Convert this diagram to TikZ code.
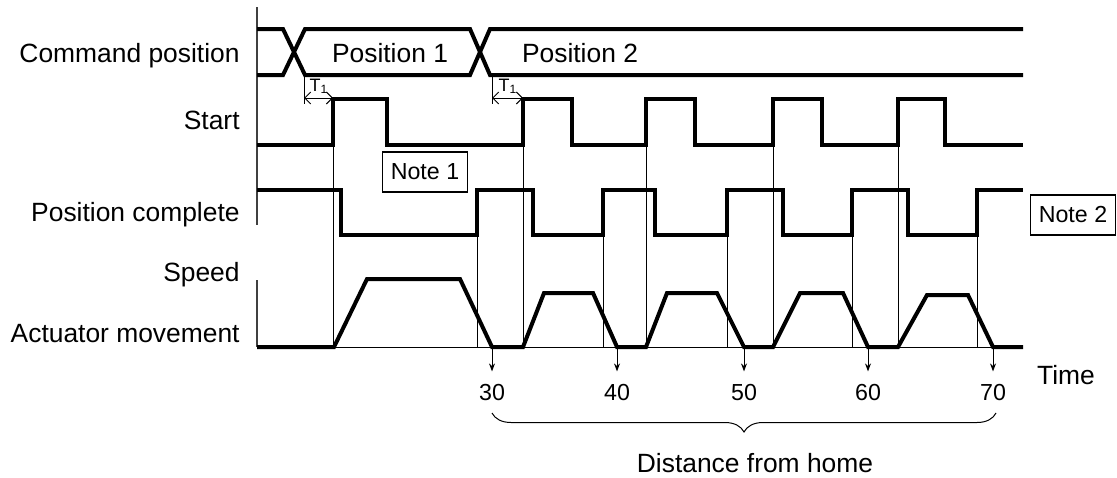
\documentclass[tikz,border=0pt]{standalone}
\usepackage{fontspec}
\setmainfont{Liberation Sans}
\usetikzlibrary{arrows.meta}
\usetikzlibrary{decorations.pathreplacing}

\begin{document}
\begin{tikzpicture}[x=0.5pt, y=-0.5pt,
  every node/.style={inner sep=0pt, font=\fontsize{13.2}{15}\selectfont},
  sig/.style={line width=2pt, line join=miter},
  guide/.style={line width=0.5pt},
  small/.style={font=\fontsize{11.6}{14}\selectfont},
  tiny/.style={font=\fontsize{9}{10}\selectfont},
  notebox/.style={draw, line width=0.6pt, minimum width=42.5pt, minimum height=20pt, font=\fontsize{11.6}{14}\selectfont},
  tip/.style={-{Stealth[length=4pt, width=3pt]}}]
  \useasboundingbox (0,0) rectangle (1117,477);

  % signal names
  \node[anchor=base east] (lcmd)   at (240,62)  {Command position};
  \node[anchor=base east] (lstart) at (240,129) {Start};
  \node[anchor=base east] (ldone)  at (240,221) {Position complete};
  \node[anchor=base east] (lspeed) at (240,281) {Speed};
  \node[anchor=base east] (lmove)  at (240,342) {Actuator movement};

  % axes
  \draw[line width=0.7pt, black!75] (257,7) -- (257,225);
  \draw[line width=0.7pt, black!75] (257,280) -- (257,347);

  % command position
  \draw[sig] (257,29) -- (283,29) -- (305,75) -- (470,75) -- (490,29) -- (1023,29);
  \draw[sig] (257,75) -- (283,75) -- (305,29) -- (470,29) -- (490,75) -- (1023,75);
  \node[anchor=base] (pos1) at (390,62) {Position 1};
  \node[anchor=base] (pos2) at (580,62) {Position 2};

  % T1
  \draw[guide] (304,75) -- (304,104);
  \draw[guide, {Straight Barb[length=3pt]}-{Straight Barb[length=3pt]}] (304,98) -- (333,98);
  \node[anchor=base, tiny] (t1a) at (319,91) {T\textsubscript{1}};
  \draw[guide] (492,75) -- (492,104);
  \draw[guide, {Straight Barb[length=3pt]}-{Straight Barb[length=3pt]}] (492,98) -- (523,98);
  \node[anchor=base, tiny] (t1b) at (508,91) {T\textsubscript{1}};

  % start
  \draw[sig] (257,145) -- (333,145) -- (333,99) -- (387,99) -- (387,145)
    -- (523,145) -- (523,99) -- (572,99) -- (572,145)
    -- (646,145) -- (646,99) -- (695,99) -- (695,145)
    -- (773,145) -- (773,99) -- (822,99) -- (822,145)
    -- (898,145) -- (898,99) -- (945,99) -- (945,145) -- (1023,145);

  % position complete
  \draw[sig] (257,190) -- (341,190) -- (341,235) -- (477,235) -- (477,190)
    -- (533,190) -- (533,235) -- (603,235) -- (603,190)
    -- (655,190) -- (655,235) -- (727,235) -- (727,190)
    -- (783,190) -- (783,235) -- (852,235) -- (852,190)
    -- (908,190) -- (908,235) -- (977,235) -- (977,190) -- (1023,190);

  % guide lines
  \draw[guide] (334,347) -- (1023,347);
  \draw[guide] (333,145) -- (333,347);
  \draw[guide] (523,145) -- (523,347);
  \draw[guide] (646,145) -- (646,347);
  \draw[guide] (773,145) -- (773,347);
  \draw[guide] (898,145) -- (898,347);
  \draw[guide] (477,235) -- (477,347);
  \draw[guide] (603,235) -- (603,347);
  \draw[guide] (727,235) -- (727,347);
  \draw[guide] (852,235) -- (852,347);
  \draw[guide] (977,235) -- (977,347);

  % speed
  \draw[sig] (257,347) -- (334,347) -- (367,279) -- (460,279) -- (492,347)
    -- (523,347) -- (544,293) -- (593,293) -- (617,347)
    -- (646,347) -- (667,293) -- (717,293) -- (744,347)
    -- (773,347) -- (800,293) -- (843,293) -- (868,347)
    -- (898,347) -- (927,295) -- (968,295) -- (993,347) -- (1023,347);

  % notes
  \node[notebox] (note1) at (425,172) {Note 1};
  \node[notebox] (note2) at (1073,215) {Note 2};

  % distances
  \coordinate (e30) at (492,347);
  \coordinate (e40) at (617,347);
  \coordinate (e50) at (744,347);
  \coordinate (e60) at (868,347);
  \coordinate (e70) at (993,347);
  \node[anchor=base, small] (n30) at (492,400) {30};
  \node[anchor=base, small] (n40) at (617,400) {40};
  \node[anchor=base, small] (n50) at (744,400) {50};
  \node[anchor=base, small] (n60) at (868,400) {60};
  \node[anchor=base, small] (n70) at (993,400) {70};
  \draw[guide, tip, shorten >=6pt] (e30) -- (n30.north);
  \draw[guide, tip, shorten >=6pt] (e40) -- (n40.north);
  \draw[guide, tip, shorten >=6pt] (e50) -- (n50.north);
  \draw[guide, tip, shorten >=6pt] (e60) -- (n60.north);
  \draw[guide, tip, shorten >=6pt] (e70) -- (n70.north);

  \node[anchor=base] (time) at (1066,384) {Time};
  \draw[guide, decorate, decoration={brace, mirror, amplitude=9.5pt}] (492,413) -- (996,413);
  \node[anchor=base] (dist) at (755,472) {Distance from home};
\end{tikzpicture}
\end{document}
